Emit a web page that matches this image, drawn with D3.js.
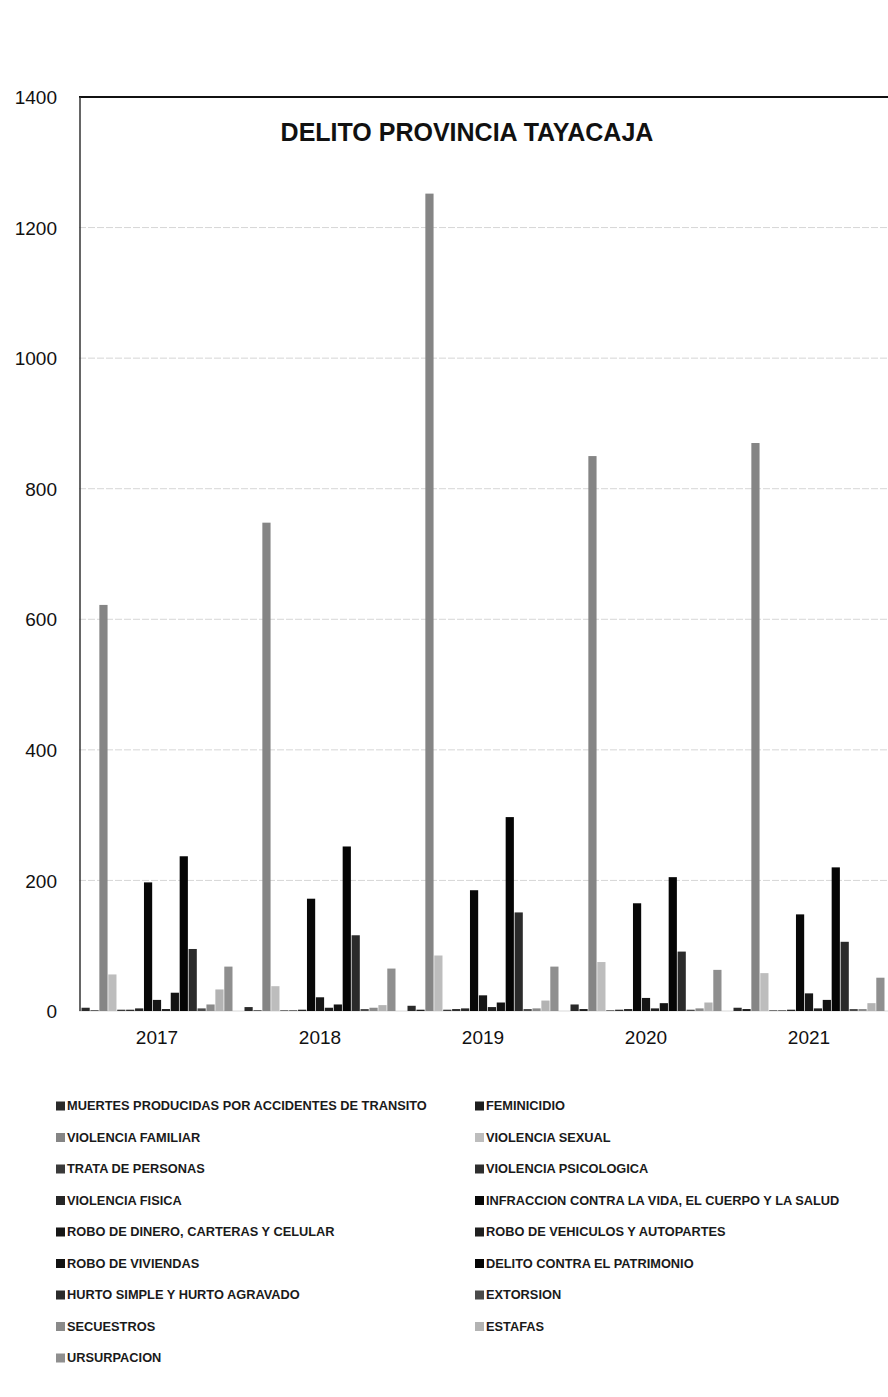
<!DOCTYPE html>
<html>
<head>
<meta charset="utf-8">
<script src="https://cdn.jsdelivr.net/npm/d3@7"></script>
<style>
  html, body { margin: 0; padding: 0; background: #fff; }
  svg { display: block; }
</style>
</head>
<body>
<div id="chart"></div>
<script>
// ---- DATA ----
const years = ["2017", "2018", "2019", "2020", "2021"];
const seriesNames = [
  "MUERTES PRODUCIDAS POR ACCIDENTES DE TRANSITO",
  "FEMINICIDIO",
  "VIOLENCIA FAMILIAR",
  "VIOLENCIA SEXUAL",
  "TRATA DE PERSONAS",
  "VIOLENCIA PSICOLOGICA",
  "VIOLENCIA FISICA",
  "INFRACCION CONTRA LA VIDA, EL CUERPO Y LA SALUD",
  "ROBO DE DINERO, CARTERAS Y CELULAR",
  "ROBO DE VEHICULOS Y AUTOPARTES",
  "ROBO DE VIVIENDAS",
  "DELITO CONTRA EL PATRIMONIO",
  "HURTO SIMPLE Y HURTO AGRAVADO",
  "EXTORSION",
  "SECUESTROS",
  "ESTAFAS",
  "URSURPACION"
];
const muertes      = [5, 6, 8, 10, 5];
const feminicidio  = [1, 1, 2, 3, 3];
const vFamiliar    = [622, 748, 1252, 850, 870];
const vSexual      = [56, 38, 85, 75, 58];
const trata        = [2, 1, 2, 1, 1];
const vPsicologica = [2, 1, 3, 2, 1];
const vFisica      = [4, 2, 4, 3, 2];
const infraccion   = [197, 172, 185, 165, 148];
const roboDinero   = [17, 21, 24, 20, 27];
const roboVehic    = [3, 5, 6, 4, 4];
const roboViv      = [28, 10, 13, 12, 17];
const delitoPatr   = [237, 252, 297, 205, 220];
const hurto        = [95, 116, 151, 91, 106];
const extorsion    = [4, 3, 3, 2, 3];
const secuestros   = [10, 5, 4, 4, 3];
const estafas      = [33, 9, 16, 13, 12];
const ursurpacion  = [68, 65, 68, 63, 51];
const seriesValues = [muertes, feminicidio, vFamiliar, vSexual, trata, vPsicologica,
  vFisica, infraccion, roboDinero, roboVehic, roboViv, delitoPatr, hurto,
  extorsion, secuestros, estafas, ursurpacion];
const yTicks = [0, 200, 400, 600, 800, 1000, 1200, 1400];
const title = "DELITO PROVINCIA TAYACAJA";

// ---- STYLE ----
const colors = ["#2a2a2a", "#1e1e1e", "#858585", "#bdbdbd", "#3a3a3a", "#2e2e2e",
  "#262626", "#080808", "#161616", "#1f1f1f", "#121212", "#050505", "#2b2b2b",
  "#4a4a4a", "#8a8a8a", "#b3b3b3", "#8f8f8f"];

const W = 888, H = 1397;
const svg = d3.select("#chart").append("svg").attr("width", W).attr("height", H);
svg.append("rect").attr("width", W).attr("height", H).attr("fill", "#fff");

const plotLeft = 79, plotRight = 891, plotTop = 97, plotBottom = 1011;

const y = d3.scaleLinear().domain([0, 1400]).range([plotBottom, plotTop]);
const x0 = d3.scaleBand().domain(years).range([75.5, 890.5]).paddingInner(0.0736).paddingOuter(0.0368);
const x1 = d3.scaleBand().domain(d3.range(seriesNames.length)).range([0, x0.bandwidth()]).paddingInner(0.08);

// gridlines
svg.append("g").selectAll("line").data(yTicks.filter(t => t > 0 && t < 1400)).join("line")
  .attr("x1", plotLeft).attr("x2", plotRight)
  .attr("y1", d => y(d)).attr("y2", d => y(d))
  .attr("stroke", "#d6d6d6").attr("stroke-width", 1).attr("stroke-dasharray", "7,2");
// baseline
svg.append("line").attr("x1", plotLeft).attr("x2", plotRight)
  .attr("y1", y(0)).attr("y2", y(0)).attr("stroke", "#d9d9d9").attr("stroke-width", 1);

// bars
const groups = svg.append("g").selectAll("g").data(years).join("g")
  .attr("transform", d => `translate(${x0(d)},0)`);
groups.selectAll("rect")
  .data((yr, yi) => seriesValues.map((vals, si) => ({ si, v: vals[yi] })))
  .join("rect")
  .attr("x", d => x1(d.si))
  .attr("width", x1.bandwidth())
  .attr("y", d => y(d.v))
  .attr("height", d => y(0) - y(d.v))
  .attr("fill", d => colors[d.si]);

// frame: top and left lines
svg.append("line").attr("x1", plotLeft).attr("x2", W).attr("y1", plotTop).attr("y2", plotTop)
  .attr("stroke", "#111").attr("stroke-width", 2);
svg.append("line").attr("x1", plotLeft + 1).attr("x2", plotLeft + 1).attr("y1", plotTop).attr("y2", plotBottom)
  .attr("stroke", "#333").attr("stroke-width", 1.5);

// y axis labels
const yAxis = d3.axisLeft(y).tickValues(yTicks).tickSize(0).tickPadding(0).tickFormat(d3.format("d"));
const ya = svg.append("g").attr("transform", "translate(57,0)").call(yAxis);
ya.select(".domain").remove();
ya.selectAll("text").attr("font-family", "Liberation Sans, Arial, sans-serif")
  .attr("font-size", 19).attr("fill", "#111").attr("dy", "0.35em");

// x axis labels
const xAxis = d3.axisBottom(x0).tickSize(0).tickPadding(0);
const xa = svg.append("g").attr("transform", "translate(0,1030)").call(xAxis);
xa.select(".domain").remove();
xa.selectAll("text").attr("font-family", "Liberation Sans, Arial, sans-serif")
  .attr("font-size", 19).attr("fill", "#111").attr("dy", "0.75em");

// title
svg.append("text").attr("x", 467).attr("y", 141).attr("text-anchor", "middle")
  .attr("font-family", "Liberation Sans, Arial, sans-serif").attr("font-weight", "bold")
  .attr("font-size", 25).attr("fill", "#111").text(title);

// legend (row-wise, 2 columns)
const legend = svg.append("g");
const items = legend.selectAll("g").data(seriesNames).join("g")
  .attr("transform", (d, i) => `translate(${i % 2 === 0 ? 56 : 475},${1106 + Math.floor(i / 2) * 31.5})`);
items.append("rect").attr("x", 0).attr("y", -4.5).attr("width", 9).attr("height", 9)
  .attr("fill", (d, i) => colors[i]);
items.append("text").attr("x", 11).attr("y", 0).attr("dy", "0.35em")
  .attr("font-family", "Liberation Sans, Arial, sans-serif").attr("font-weight", "bold")
  .attr("font-size", 12.8).attr("fill", "#1a1a1a").text(d => d);
</script>
</body>
</html>
